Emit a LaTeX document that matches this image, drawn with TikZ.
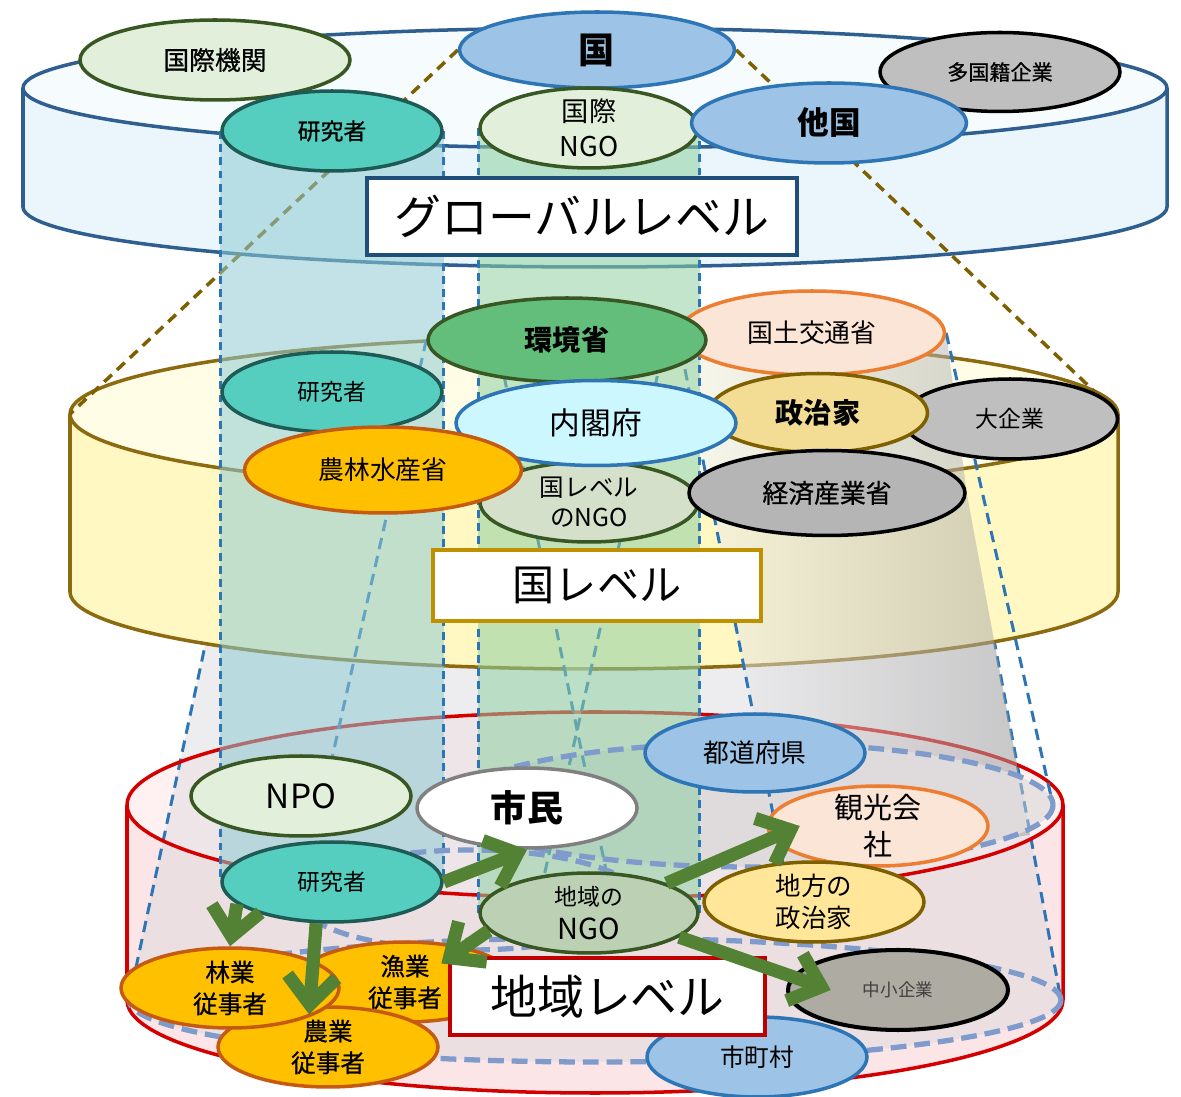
\documentclass[tikz,border=0pt]{standalone}
\usepackage{fontspec}
\setmainfont{Noto Sans CJK JP}
\newfontfamily\medfont{Noto Sans CJK JP}[FakeBold=0.7]
\usetikzlibrary{shapes.geometric,arrows.meta,calc}
\pgfdeclarelayer{l0}
\pgfdeclarelayer{l1}
\pgfdeclarelayer{l2}
\pgfdeclarelayer{l3}
\pgfdeclarelayer{l4}
\pgfsetlayers{l0,l1,l2,l3,l4,main}
\newcommand{\fsz}[2]{\fontsize{#1}{#2}\selectfont}
\definecolor{grF}{HTML}{E2EFDA}
\definecolor{grD}{HTML}{385723}
\definecolor{blF}{HTML}{9DC3E6}
\definecolor{blD}{HTML}{2E75B6}
\definecolor{gyF}{HTML}{BFBFBF}
\definecolor{tlF}{HTML}{55CDBF}
\definecolor{tlD}{HTML}{1E5B55}
\definecolor{kkF}{HTML}{63BE7B}
\definecolor{orF}{HTML}{FBE5D6}
\definecolor{orD}{HTML}{ED7D31}
\definecolor{cyF}{HTML}{CCF7FF}
\definecolor{gdF}{HTML}{F3DD94}
\definecolor{olD}{HTML}{7F6000}
\definecolor{yeF}{HTML}{FFC000}
\definecolor{yeD}{HTML}{C55A11}
\definecolor{ngF}{HTML}{D4E0C9}
\definecolor{kzF}{HTML}{B5B5B5}
\definecolor{rnF}{HTML}{BCD0B3}
\definecolor{ltF}{HTML}{FFE699}
\definecolor{csF}{HTML}{AEABA2}
\definecolor{shD}{HTML}{808080}
\definecolor{gSide}{HTML}{EAF6FC}
\definecolor{gTop}{HTML}{F6FCFE}
\definecolor{gLine}{HTML}{2F5F8F}
\definecolor{nSide}{HTML}{FFF8C2}
\definecolor{nTop}{HTML}{FFFDE6}
\definecolor{nLine}{HTML}{8B6A10}
\definecolor{rSide}{HTML}{FCE5E7}
\definecolor{rTop}{HTML}{FFF1F2}
\definecolor{rLine}{HTML}{D40000}
\definecolor{gBox}{HTML}{1F4E79}
\definecolor{nBox}{HTML}{BF9000}
\definecolor{rBox}{HTML}{C00000}
\definecolor{arrG}{HTML}{548235}
\definecolor{cAF}{HTML}{8FCBD3}
\definecolor{cBF}{HTML}{8FD0A2}
\definecolor{footC}{HTML}{7F9BCB}
\definecolor{coneAF}{HTML}{D8D8DE}
\tikzset{
 ell/.style={ellipse, line width=2pt, inner sep=0pt, minimum width=4.4cm, minimum height=1.6cm, align=center},
 two/.style={inner ysep=-5pt},
 lvl/.style={rectangle, fill=white, line width=2.3pt, inner sep=0pt},
 cylline/.style={line width=2pt, line join=round},
 olv/.style={draw=olD, line width=2pt, dash pattern=on 6pt off 4pt},
 conel/.style={draw=blD, line width=1.7pt, dash pattern=on 6.5pt off 4pt},
 coledge/.style={draw=blD, line width=1.6pt, dash pattern=on 4.5pt off 3pt},
 foot/.style={draw=footC, line width=3pt, dash pattern=on 9pt off 4.5pt},
 arr/.style={draw=arrG, line width=7.5pt, -{Straight Barb[length=16pt,width=28pt]}},
}
\begin{document}
\begin{tikzpicture}[x=0.02cm, y=-0.02cm]
\useasboundingbox (0,0) rectangle (1181,1097);

% ---------- global level nodes
\node[ell, fill=grF, draw=grD, minimum width=5.4cm, font=\medfont\fsz{14.7}{18}] (kikan) at (215,60) {国際機関};
\node[ell, fill=blF, draw=blD, minimum width=5.5cm, minimum height=1.52cm, font=\fsz{20.5}{24}\bfseries] (koku) at (597,50) {国};
\node[ell, fill=gyF, draw=black, minimum width=4.8cm, minimum height=1.58cm, font=\medfont\fsz{12}{15}] (tnk) at (1000,72) {多国籍企業};
\node[ell, fill=tlF, draw=tlD, font=\medfont\fsz{13}{16}] (kenG) at (332,131) {研究者};
\node[ell, two, fill=grF, draw=grD, minimum width=4.36cm, font=\fsz{15.5}{20}] (ingo) at (589,128) {国際\\NGO};
\node[ell, fill=blF, draw=blD, minimum width=5.5cm, font=\fsz{18}{22}\bfseries] (tkk) at (829,123) {他国};

% ---------- national level nodes
\node[ell, fill=orF, draw=orD, minimum width=5.3cm, minimum height=1.68cm, font=\fsz{14.7}{18}] (kokudo) at (812,333) {国土交通省};
\node[ell, fill=kkF, draw=grD, minimum width=5.56cm, minimum height=1.68cm, font=\fsz{16}{20}\bfseries] (kankyo) at (567,340) {環境省};
\node[ell, fill=gyF, draw=black, minimum width=4.3cm, font=\fsz{13}{16}] (daikigyo) at (1010,419) {大企業};
\node[ell, fill=gdF, draw=olD, minimum width=4.38cm, minimum height=1.58cm, font=\fsz{16}{20}\bfseries] (seijika) at (818,413) {政治家};
\node[ell, fill=tlF, draw=tlD, font=\fsz{13}{16}] (kenN) at (332,392) {研究者};
\node[ell, two, fill=ngF, draw=grD, minimum width=4.36cm, font=\fsz{14}{17}] (ngoN) at (589,502) {国レベル\\のNGO};
\node[ell, fill=cyF, draw=blD, minimum width=5.6cm, minimum height=1.7cm, font=\fsz{17.5}{21}] (naikaku) at (596,423) {内閣府};
\node[ell, fill=kzF, draw=black, minimum width=5.52cm, minimum height=1.7cm, font=\medfont\fsz{14.7}{18}] (keizai) at (827,493) {経済産業省};
\node[ell, fill=yeF, draw=yeD, minimum width=5.54cm, minimum height=1.72cm, font=\fsz{14.7}{18}] (nourin) at (383,470) {農林水産省};

% ---------- regional level nodes
\node[ell, two, fill=orF, draw=orD, font=\fsz{16.5}{21}] (kanko) at (878,826) {観光会\\社};
\node[ell, fill=blF, draw=blD, minimum height=1.56cm, font=\fsz{14.7}{18}] (tdfk) at (755,753) {都道府県};
\node[ell, fill=grF, draw=grD, font=\fsz{19}{22}] (npo) at (301,796) {NPO};
\node[ell, fill=white, draw=shD, font=\fsz{20.5}{24}\bfseries] (shimin) at (527,808) {市民};
\node[ell, two, fill=ltF, draw=olD, font=\fsz{14.5}{18}] (chiho) at (814,902) {地方の\\政治家};
\node[ell, fill=tlF, draw=tlD, font=\fsz{13}{16}] (kenR) at (332,882) {研究者};
\node[ell, two, fill=rnF, draw=grD, minimum width=4.36cm, font=\fsz{13}{19}] (rngo) at (589,913) {地域の\\{\fsz{16.5}{19}NGO}};
\node[ell, fill=csF, draw=black, line width=2.3pt, font=\fsz{10}{13}, text=black!75] (chusho) at (898,990) {中小企業};
\node[ell, fill=blF, draw=blD, font=\fsz{14}{17}] (shicho) at (757,1057) {市町村};
\node[ell, two, fill=yeF, draw=yeD, font=\medfont\fsz{14}{18}] (gyogyo) at (405,982) {漁業\\従事者};
\node[ell, two, fill=yeF, draw=yeD, font=\medfont\fsz{14}{18}] (nogyo) at (328,1047) {農業\\従事者};
\node[ell, two, fill=yeF, draw=yeD, minimum width=4.36cm, font=\medfont\fsz{14}{18}] (ringyo) at (230,988) {林業\\従事者};

% ---------- level boxes
\node[lvl, draw=gBox, minimum width=8.6cm, minimum height=1.54cm, font=\fsz{26.7}{30}] (gbox) at (582,216.5) {グローバルレベル};
\node[lvl, draw=nBox, minimum width=6.56cm, minimum height=1.42cm, font=\fsz{24}{28}] (nbox) at (597,585.5) {国レベル};
\node[lvl, draw=rBox, minimum width=6.3cm, minimum height=1.54cm, font=\fsz{26.7}{30}] (rbox) at (607.5,996.5) {地域レベル};

% ---------- arrows
\draw[arr] (kenR.east) -- (shimin.south);
\draw[arr] (kenR.193) -- (ringyo.north);
\draw[arr] (kenR.249) -- ($(nogyo.center)!0.8!(nogyo.120)$);
\draw[arr] (rngo.190) -- ($(gyogyo.center)!0.55!(gyogyo.27)$);
\draw[arr] (rngo.21) -- ($(kanko.west)!0.3!(kanko.center)$);
\draw[arr] (rngo.345) -- ($(chusho.west)!0.4!(chusho.center)$);

% ---------- helper coordinates
\coordinate (Nl) at (70,414);
\coordinate (Nr) at (1118,414);
\coordinate (E1c) at (752,805);
\coordinate (E1r) at (1053,805);
\coordinate (E1b) at (783.5,866.7);
\coordinate (E1q) at (1030,835);
\coordinate (E2c) at (595,1000);
\coordinate (E2l) at (129,1000);
\coordinate (E2r) at (1061,1000);
\coordinate (E2k) at (620,938);
\coordinate (E3c) at (470,900);
\coordinate (E3l) at (300,900);
\coordinate (E3f) at (528,947);

% ---------- global cylinder
\begin{pgfonlayer}{l0}
\fill[gSide] (23,88) -- (23,207) arc[start angle=180,end angle=0,x radius=572,y radius=60] -- (1167,88) arc[start angle=0,end angle=180,x radius=572,y radius=60] -- cycle;
\draw[cylline, draw=gLine] (23,88) -- (23,207) arc[start angle=180,end angle=0,x radius=572,y radius=60] -- (1167,88);
\draw[cylline, draw=gLine, fill=gTop] (595,88) ellipse[x radius=572,y radius=60];
\end{pgfonlayer}

% ---------- regional cylinder, big cone
\begin{pgfonlayer}{l1}
\fill[rSide] (127,805) -- (127,1000) arc[start angle=180,end angle=0,x radius=468,y radius=93] -- (1063,805) arc[start angle=0,end angle=180,x radius=468,y radius=93] -- cycle;
\fill[rTop] (595,805) ellipse[x radius=468,y radius=93];
\fill[coneAF, opacity=0.45] (nourin.west) -- (keizai.east) -- (E2r) arc[start angle=0,end angle=180,x radius=466,y radius=62] -- cycle;
\draw[conel] (nourin.west) -- (E2l);
\draw[conel] (keizai.east) -- (E2r);
\draw[cylline, draw=rLine] (127,805) -- (127,1000) arc[start angle=180,end angle=0,x radius=468,y radius=93] -- (1063,805);
\draw[cylline, draw=rLine] (595,805) ellipse[x radius=468,y radius=93];
\end{pgfonlayer}

% ---------- national cylinder
\begin{pgfonlayer}{l2}
\fill[nSide] (70,414) -- (70,592) arc[start angle=180,end angle=0,x radius=524,y radius=77] -- (1118,414) arc[start angle=0,end angle=180,x radius=524,y radius=77] -- cycle;
\draw[cylline, draw=nLine] (70,414) -- (70,592) arc[start angle=180,end angle=0,x radius=524,y radius=77] -- (1118,414);
\draw[cylline, draw=nLine, fill=nTop] (594,414) ellipse[x radius=524,y radius=77];
\end{pgfonlayer}

% ---------- projection lines and cones from national actors
\begin{pgfonlayer}{l3}
\draw[olv] (koku.west) -- (Nl);
\draw[olv] (koku.east) -- (Nr);
\begin{scope}[transparency group, opacity=0.5]
\shade[left color=gray!8, right color=gray!75] (kokudo.west) -- (kokudo.east) -- (keizai.east) -- (E1q) -- (E1b) -- cycle;
\fill[gray!35] (E1c) ellipse[x radius=301,y radius=62];
\end{scope}
\draw[conel] (kokudo.west) -- (E1b);
\draw[conel] (kokudo.east) -- (E1r);
\coordinate (C1) at ($(kankyo.west)!0.25!(kankyo.east)$);
\coordinate (C2) at ($(kankyo.west)!0.85!(kankyo.east)$);
\fill[white, opacity=0.35] (C1) -- (C2) -- (intersection of C1--E2k and C2--E3f) -- cycle;
\draw[conel] (kankyo.west) -- (E3l);
\draw[conel] (C2) -- (E3f);
\draw[conel] (C1) -- (E2k);
\end{pgfonlayer}

% ---------- vertical columns and footprints
\begin{pgfonlayer}{l4}
\fill[cAF, opacity=0.55] (kenG.west) rectangle (kenR.east);
\fill[cBF, opacity=0.55] (ingo.west) rectangle (rngo.east);
\draw[coledge] (kenG.west) -- (kenR.west);
\draw[coledge] (kenG.east) -- (kenR.east);
\draw[coledge] (ingo.west) -- (rngo.west);
\draw[coledge] (ingo.east) -- (rngo.east);
\draw[foot] (E1c) ellipse[x radius=301,y radius=62];
\draw[foot] (E3c) ellipse[x radius=170,y radius=50];
\draw[foot] (E2c) ellipse[x radius=466,y radius=62];
\end{pgfonlayer}
\end{tikzpicture}
\end{document}
